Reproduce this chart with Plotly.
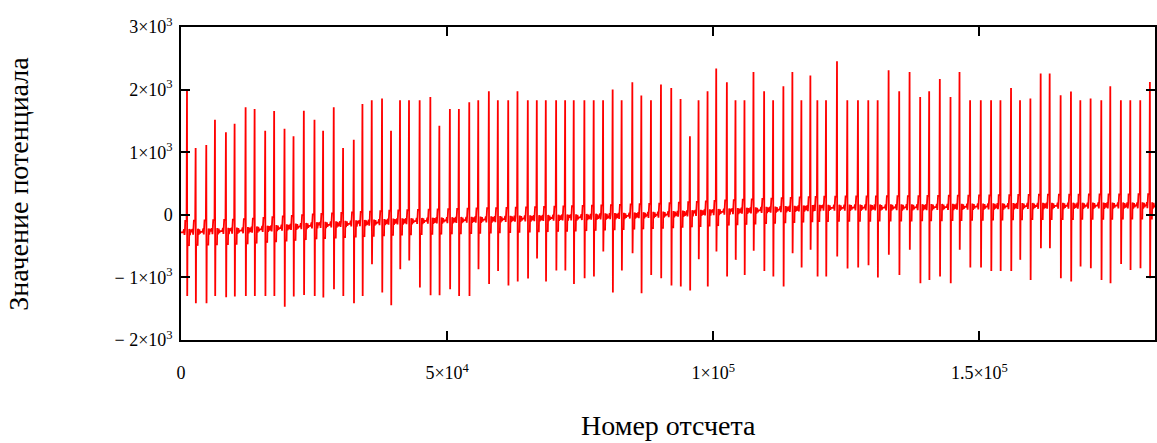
import numpy as np
import plotly.graph_objects as go

# ---- data ----
beat_pos = [1126, 2750, 4750, 6380, 8440, 10070, 12140, 13830, 15820, 17500,
            19450, 21140, 23080, 25080, 26700, 28700, 30450, 32460, 34090, 35840,
            37770, 39460, 41150, 42840, 44840, 46850, 48540, 50520, 52210, 54160,
            55850, 57840, 59530, 61480, 63220, 65160, 66850, 68540, 70480, 72170,
            73790, 75790, 77540, 79300, 81100, 82790, 84800, 86490, 88300, 90180,
            92110, 93860, 95620, 97240, 98930, 100560, 102560, 104180, 105870, 107560,
            109560, 111250, 113180, 114870, 116560, 118250, 119560, 121190, 123250, 125190,
            127190, 129130, 130890, 132950, 134940, 136890, 138880, 140570, 142570, 144580,
            146270, 148260, 150270, 152200, 153960, 155950, 157640, 159590, 161520, 163210,
            165270, 167210, 168970, 170900, 172910, 174600, 176590, 178360, 180230, 182040]

peak_hi = [2000, 1067, 1115, 1520, 1317, 1456, 1717, 1690, 1344, 1658,
           1376, 1253, 1664, 1520, 1344, 1717, 1067, 1200, 1771, 1829,
           1856, 1344, 1829, 1829, 1829, 1883, 1424, 1690, 1690, 1797,
           1829, 1973, 1829, 1829, 1973, 1829, 1829, 1829, 1829, 1829,
           1829, 1829, 1829, 1829, 2000, 1829, 2117, 1904, 1829, 2080,
           2027, 1851, 1253, 1829, 1973, 2336, 2117, 1829, 1829, 2283,
           1973, 1829, 2053, 2283, 1829, 2224, 1829, 1829, 2453, 1829,
           1829, 1829, 1829, 2309, 1973, 2283, 1883, 1973, 2171, 1883,
           2283, 1829, 1829, 1829, 1829, 2027, 1829, 1856, 2256, 2256,
           1909, 1968, 1829, 1856, 1829, 2053, 1829, 1829, 1829, 2123]

peak_lo = [-1296, -1413, -1413, -1296, -1317, -1307, -1296, -1296, -1296, -1296,
           -1467, -1307, -1280, -1296, -1323, -1189, -1296, -1413, -1296, -789,
           -1243, -1445, -869, -731, -1163, -1285, -1285, -1189, -1296, -1296,
           -869, -1104, -896, -1131, -1067, -1019, -699, -1067, -891, -891,
           -1104, -1013, -987, -587, -1243, -891, -613, -1253, -960, -1013,
           -1131, -1147, -1211, -709, -1147, -587, -987, -720, -960, -576,
           -896, -987, -1147, -613, -843, -560, -987, -987, -667, -859,
           -843, -805, -1003, -640, -960, -560, -1093, -1040, -987, -1093,
           -560, -843, -843, -896, -896, -896, -720, -1040, -533, -533,
           -1013, -1067, -827, -853, -1040, -1093, -784, -880, -853, -1013]

# slow baseline drift (sample, value)
base_x = [0, 12000, 25000, 40000, 55000, 75000, 90000, 105000, 120000, 140000, 160000, 183000]
base_v = [-280, -250, -170, -110, -80, -40, 0, 60, 110, 120, 140, 150]

x_end = 183000

# ---- build the trace from the read values ----
pre_shape = [(-700, 0), (-560, 50), (-470, -45), (-380, 40), (-330, 180), (-80, 180)]
post_shape = [(90, -210), (380, -210), (430, 50), (560, -50), (700, 40), (820, -30), (900, 0)]

xs, ys = [0.0], [float(np.interp(0, base_x, base_v))]
n = len(beat_pos)
for i, (s, hi, lo) in enumerate(zip(beat_pos, peak_hi, peak_lo)):
    gap_prev = s - (beat_pos[i - 1] if i > 0 else -4000)
    gap_next = (beat_pos[i + 1] if i < n - 1 else x_end + 4000) - s
    for off, d in pre_shape:
        if -off < gap_prev / 2 and s + off > xs[-1]:
            b = np.interp(s + off, base_x, base_v)
            xs.append(s + off); ys.append(b + d)
    xs.append(s); ys.append(hi)
    xs.append(s + 45); ys.append(lo)
    for off, d in post_shape:
        if off < gap_next / 2 and s + off < x_end:
            b = np.interp(s + off, base_x, base_v)
            xs.append(s + off); ys.append(b + d)
xs.append(x_end); ys.append(float(np.interp(x_end, base_x, base_v)))

fig = go.Figure()
fig.add_trace(go.Scatter(x=xs, y=ys, mode="lines",
                         line=dict(color="#ff0000", width=1.8),
                         hoverinfo="skip", showlegend=False))

x_tickvals = [0, 50000, 100000, 150000]
x_ticktext = ["0", "5×10<sup>4</sup>", "1×10<sup>5</sup>", "1.5×10<sup>5</sup>"]
y_tickvals = [-2000, -1000, 0, 1000, 2000, 3000]
y_ticktext = ["− 2×10<sup>3</sup>", "− 1×10<sup>3</sup>", "0",
              "1×10<sup>3</sup>", "2×10<sup>3</sup>", "3×10<sup>3</sup>"]

serif = "Liberation Serif, Times New Roman, serif"
tickfont = dict(family=serif, size=18, color="black")

fig.update_layout(
    width=1157, height=443,
    margin=dict(l=181, r=0, t=27, b=103),
    paper_bgcolor="white", plot_bgcolor="white",
    xaxis=dict(range=[0, x_end], showline=True, linecolor="black", linewidth=1.5,
               mirror="ticks", ticks="inside", ticklen=9, tickwidth=1.5, tickcolor="black",
               tickvals=x_tickvals, ticktext=x_ticktext, tickfont=tickfont,
               showgrid=False, zeroline=False, ticklabelstandoff=16),
    yaxis=dict(range=[-2000, 3000], showline=True, linecolor="black", linewidth=1.5,
               mirror="ticks", ticks="inside", ticklen=9, tickwidth=1.5, tickcolor="black",
               tickvals=y_tickvals, ticktext=y_ticktext, tickfont=tickfont,
               showgrid=False, zeroline=False, ticklabelstandoff=3),
    annotations=[
        dict(text="Номер отсчета", xref="paper", yref="paper", x=0.5, y=-0.326,
             xanchor="center", yanchor="bottom", showarrow=False, borderpad=0,
             font=dict(family=serif, size=28, color="black")),
        dict(text="Значение потенциала", xref="paper", yref="paper", x=-0.167, y=0.5,
             xanchor="center", yanchor="middle", showarrow=False, textangle=-90,
             font=dict(family=serif, size=28, color="black")),
    ],
)

fig.write_html("out.html")
